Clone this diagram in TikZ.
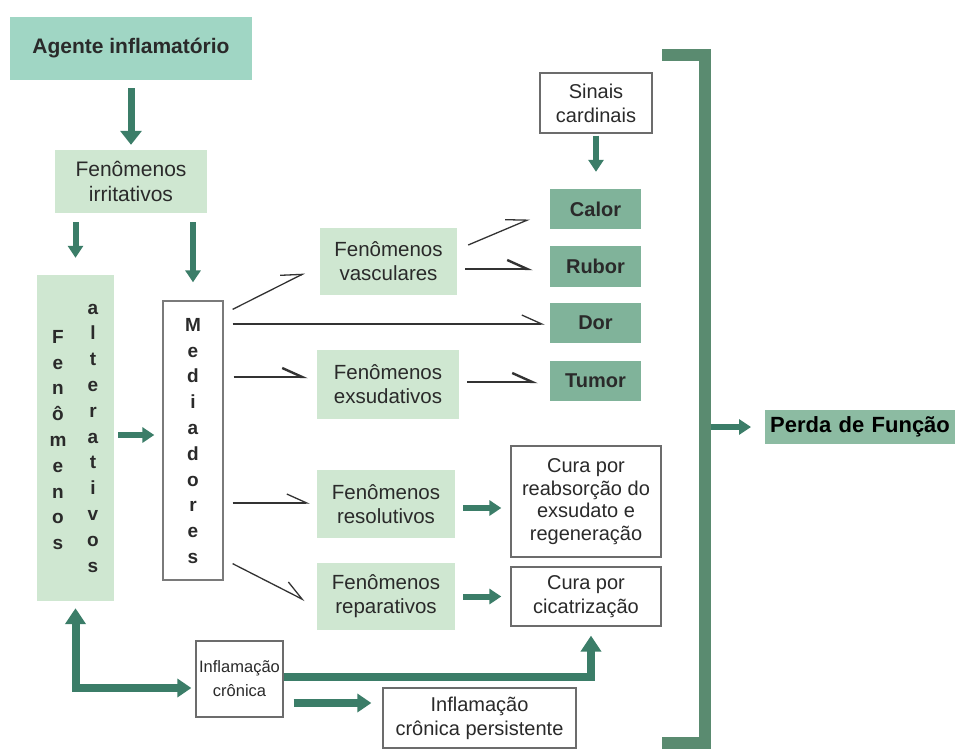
\documentclass[tikz,border=0pt]{standalone}
\usepackage{fontspec}
\setmainfont{Liberation Sans}
\usetikzlibrary{arrows.meta,calc,positioning}
\definecolor{mint}{HTML}{A0D6C4}
\definecolor{lgreen}{HTML}{CFE7D1}
\definecolor{dgreen}{HTML}{80B39A}
\definecolor{pgreen}{HTML}{8CBBA2}
\definecolor{arrowgreen}{HTML}{3B7D68}
\definecolor{brgreen}{HTML}{5A8B70}
\definecolor{txt}{HTML}{2A2A2A}
\begin{document}
\begin{tikzpicture}[x=1pt,y=-1pt,
  every node/.style={inner sep=0pt, text=txt},
  lbox/.style={fill=lgreen, align=center, font=\fontsize{20.5}{24}\selectfont},
  dbox/.style={fill=dgreen, minimum width=91pt, minimum height=40pt, font=\fontsize{20}{24}\selectfont\bfseries},
  wbox/.style={draw=gray!85!black, line width=1.3pt, fill=white, align=center, font=\fontsize{20}{22.5}\selectfont},
  col/.style={align=center, font=\fontsize{19}{25.8}\selectfont\bfseries},
  garrow/.style={draw=arrowgreen, line width=7pt, -{Triangle[length=14pt,width=21pt]}},
  sarrow/.style={draw=arrowgreen, line width=6pt, -{Triangle[length=12pt,width=15pt]}},
  barbthin/.style={draw=black!80, line width=1.3pt, -{Straight Barb[harpoon,length=20pt,width=18pt]}},
  barbthick/.style={draw=black!80, line width=2.4pt, -{Straight Barb[harpoon,length=20pt,width=18pt]}},
  bracket/.style={draw=brgreen, line width=12pt}
]
\useasboundingbox (0,0) rectangle (955,749);
\fill[white] (0,0) rectangle (955,749);

% nodes
\node[fill=mint, minimum width=242pt, minimum height=63pt, font=\fontsize{21}{25}\selectfont\bfseries] (agente) at (131,48.5) {Agente inflamatório};
\node[lbox, minimum width=152pt, minimum height=63pt, font=\fontsize{21}{25}\selectfont] (irrit) at (131,181.5) {Fenômenos\\irritativos};
\node[fill=lgreen, minimum width=77pt, minimum height=326pt] (alt) at (75.5,438) {};
\node[col] (altA) at (58,440) {F\\e\\n\\ô\\m\\e\\n\\o\\s};
\node[col] (altB) at (93,438) {a\\l\\t\\e\\r\\a\\t\\i\\v\\o\\s};
\node[draw=gray!70!black!80, line width=1.3pt, fill=white, minimum width=60pt, minimum height=279pt] (med) at (193,440.5) {};
\node[col] (medT) at (193,441) {M\\e\\d\\i\\a\\d\\o\\r\\e\\s};

\node[lbox, minimum width=137pt, minimum height=67pt] (vasc) at (388.5,261.5) {Fenômenos\\vasculares};
\node[lbox, minimum width=142pt, minimum height=69pt] (exsud) at (388,384.5) {Fenômenos\\exsudativos};
\node[lbox, minimum width=138pt, minimum height=68pt] (resol) at (386,504) {Fenômenos\\resolutivos};
\node[lbox, minimum width=138pt, minimum height=67pt] (repar) at (386,596.5) {Fenômenos\\reparativos};

\node[dbox] (calor) at (595.5,209) {Calor};
\node[dbox, minimum height=41pt] (rubor) at (595.5,266.5) {Rubor};
\node[dbox] (dor) at (595.5,323) {Dor};
\node[dbox] (tumor) at (595.5,381) {Tumor};

\node[wbox, minimum width=112pt, minimum height=60pt, font=\fontsize{20}{24}\selectfont] (sinais) at (596,103) {Sinais\\cardinais};
\node[wbox, minimum width=150pt, minimum height=111pt] (cura1) at (586,501.5) {Cura por\\reabsorção do\\exsudato e\\regeneração};
\node[wbox, minimum width=150pt, minimum height=59pt, font=\fontsize{20}{24}\selectfont] (cura2) at (586,596.5) {Cura por\\cicatrização};
\node[wbox, minimum width=87pt, minimum height=76pt, font=\fontsize{16.5}{24}\selectfont] (infl) at (239.5,679) {Inflamação\\crônica};
\node[wbox, minimum width=193pt, minimum height=60pt, font=\fontsize{20}{24}\selectfont] (persist) at (479.5,718) {Inflamação\\crônica persistente};

\node[fill=pgreen, anchor=west, minimum height=34pt, text width=240pt, align=left, inner xsep=5pt, font=\fontsize{22}{26}\selectfont\bfseries, text=black] (perda) at (765,427) {Perda de Função};

% green arrows
\draw[garrow, shorten <=8pt, shorten >=5pt] (agente.south) -- (irrit.north);
\draw[sarrow, line width=6pt, shorten <=9pt, shorten >=17pt] (irrit.south -| alt.north) -- (alt.north);
\draw[sarrow, line width=6pt, shorten <=9pt, shorten >=18pt] (irrit.south -| med.north) -- (med.north);
\draw[sarrow, shorten <=4pt, shorten >=8pt] ($(alt.east)+(0,-3)$) -- ($(med.west)+(0,-5.5)$);
\draw[sarrow, shorten <=2pt, shorten >=17pt] (sinais.south) -- (sinais.south |- calor.north);
\draw[sarrow, shorten <=8pt, shorten >=9pt] ($(resol.east)+(0,4)$) -- ($(resol.east -| cura1.west)+(0,4)$);
\draw[sarrow, shorten <=8pt, shorten >=9pt] (repar.east) -- (repar.east -| cura2.west);
\draw[sarrow, line width=8pt, -{Triangle[length=14pt,width=18pt]}, shorten <=10pt, shorten >=11pt] ($(infl.east)+(0,24)$) -- ($(persist.west)+(0,-15)$);
\draw[draw=arrowgreen, line width=8pt, -{Triangle[length=16pt,width=20pt]}, shorten >=9pt] ($(infl.east)+(0,-2)$) -| ($(cura2.south)+(5,0)$);
\draw[draw=arrowgreen, line width=8pt, {Triangle[length=16pt,width=20pt]}-{Triangle[length=14pt,width=18pt]}, shorten <=7pt, shorten >=4pt] (alt.south) |- ($(infl.west)+(0,9)$);

% thin barbed connectors
\draw[barbthin] ($(med.north east)+(9,9)$) -- ($(vasc.west)+(-15,11.5)$);
\draw[barbthin] ($(med.east |- dor.west)+(9,1)$) -- ($(dor.west)+(-5,1)$);
\draw[barbthick] ($(med.east |- exsud.west)+(10,-7.5)$) -- ($(exsud.west)+(-9,-7.5)$);
\draw[barbthin] ($(med.east |- resol.west)+(9,-1)$) -- ($(resol.west)+(-7,-1)$);
\draw[barbthin] ($(med.south east)+(9,-17)$) -- ($(repar.west)+(-12,4)$);
\draw[barbthin] ($(vasc.east)+(11,-16.5)$) -- ($(calor.west)+(-20,10)$);
\draw[barbthick] ($(vasc.east |- rubor.west)+(8,2.5)$) -- ($(rubor.west)+(-17,2.5)$);
\draw[barbthick] ($(exsud.east |- tumor.west)+(8,1)$) -- ($(tumor.west)+(-12,1)$);

% bracket
\coordinate (brtop) at (662,55);
\coordinate (brbot) at (662,743);
\coordinate (brx) at (704.5,0);
\draw[bracket] (brtop) -| (brx |- brbot) -- (brbot);
\draw[sarrow, line width=6pt, -{Triangle[length=12pt,width=15pt]}, shorten <=6pt, shorten >=14pt] (brx |- perda.west) -- (perda.west);
\end{tikzpicture}
\end{document}
